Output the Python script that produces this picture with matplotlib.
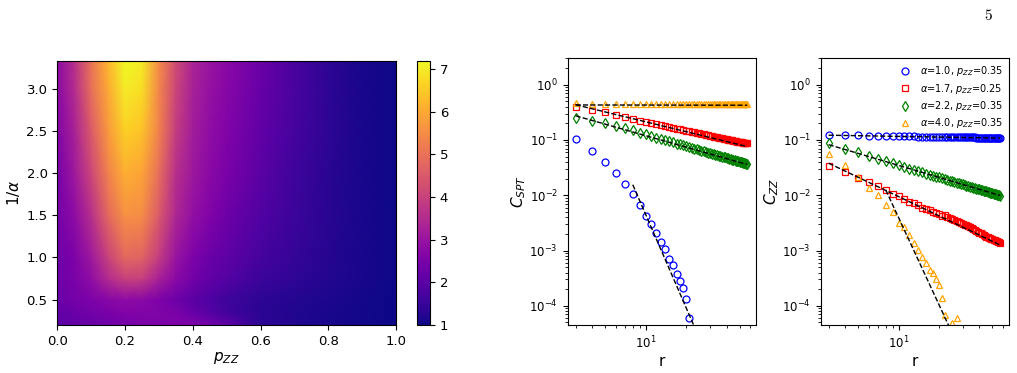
import numpy as np
import matplotlib
matplotlib.use("Agg")
import matplotlib.pyplot as plt

# ---------------- heatmap data ----------------
P_ZZ = [0.0, 0.05, 0.1, 0.15, 0.2, 0.25, 0.3, 0.35, 0.4, 0.45, 0.5, 0.6, 0.7, 0.8, 0.9, 1.0]
INV_ALPHA = [0.2, 0.35, 0.5, 0.75, 1.0, 1.5, 2.0, 2.5, 3.0, 3.33]
row_020 = [2.0, 2.1, 2.2, 2.3, 2.4, 2.5, 2.55, 2.6, 2.55, 2.4, 2.1, 1.35, 1.2, 1.1, 1.05, 1.0]
row_035 = [2.1, 2.25, 2.4, 2.5, 2.6, 2.6, 2.6, 2.5, 2.2, 1.9, 1.65, 1.3, 1.2, 1.12, 1.05, 1.0]
row_050 = [2.25, 2.4, 2.55, 2.7, 2.8, 2.75, 2.55, 2.3, 2.0, 1.8, 1.6, 1.35, 1.22, 1.15, 1.07, 1.0]
row_075 = [2.3, 2.5, 2.85, 3.5, 4.0, 3.95, 3.3, 2.75, 2.4, 2.1, 1.9, 1.55, 1.38, 1.22, 1.1, 1.0]
row_100 = [2.3, 2.55, 3.1, 4.0, 4.8, 4.7, 3.9, 3.0, 2.55, 2.25, 2.05, 1.7, 1.45, 1.25, 1.1, 1.0]
row_150 = [2.4, 2.8, 3.6, 4.8, 5.6, 5.5, 4.5, 3.4, 2.9, 2.6, 2.3, 1.85, 1.55, 1.3, 1.12, 1.0]
row_200 = [2.45, 3.1, 4.1, 5.3, 6.1, 5.9, 4.9, 3.6, 3.1, 2.75, 2.5, 2.0, 1.6, 1.3, 1.12, 1.0]
row_250 = [2.6, 3.3, 4.5, 5.7, 6.6, 6.4, 5.3, 3.9, 3.2, 2.85, 2.6, 2.1, 1.7, 1.35, 1.12, 1.0]
row_300 = [2.75, 3.5, 4.9, 6.0, 7.0, 6.8, 5.4, 4.1, 3.3, 2.95, 2.7, 2.2, 1.75, 1.35, 1.12, 1.0]
row_333 = [2.8, 3.6, 5.0, 6.2, 7.2, 7.0, 5.5, 4.2, 3.35, 3.0, 2.75, 2.25, 1.75, 1.35, 1.1, 1.0]
CBAR_TICKS = [1, 2, 3, 4, 5, 6, 7]

# ---------------- correlation data ----------------
R = list(range(3, 58))

legend_labels = [r'$\alpha$=1.0, $p_{ZZ}$=0.35', r'$\alpha$=1.7, $p_{ZZ}$=0.25',
                 r'$\alpha$=2.2, $p_{ZZ}$=0.35', r'$\alpha$=4.0, $p_{ZZ}$=0.35']

# C_SPT
spt_blue_r = list(range(3, 22))
spt_blue = [0.104, 0.064, 0.040, 0.025, 0.0161, 0.0106, 0.0066, 0.0043, 0.0030, 0.00206,
            0.00143, 0.00107, 0.000695, 0.000556, 0.000372, 0.000285, 0.000213, 0.000133, 0.0000608]
spt_red = [0.40, 0.352, 0.315, 0.283, 0.260, 0.240, 0.224, 0.211,
           0.201, 0.193, 0.184, 0.177, 0.171, 0.165, 0.160, 0.155, 0.151, 0.147,
           0.143, 0.140, 0.137, 0.134, 0.131, 0.128, 0.126, 0.123, 0.121, 0.119,
           0.117, 0.115, 0.113, 0.112, 0.110, 0.108, 0.107, 0.105, 0.104, 0.103,
           0.101, 0.100, 0.099, 0.098, 0.096,
           0.0955, 0.0945, 0.0936, 0.0928, 0.092, 0.0912, 0.0905, 0.0898, 0.0892, 0.0886, 0.088, 0.0875]
spt_green = [0.252, 0.224, 0.199, 0.180, 0.163, 0.149, 0.136, 0.126,
             0.117, 0.110, 0.104, 0.0988, 0.0941, 0.090, 0.0862, 0.0829, 0.0798, 0.077,
             0.0744, 0.072, 0.0698, 0.0677, 0.0659, 0.064, 0.0624, 0.0608, 0.0593, 0.0579,
             0.0566, 0.0554, 0.0542, 0.0531, 0.052, 0.051, 0.05, 0.0491, 0.0482, 0.0474,
             0.0465, 0.0458, 0.045, 0.0443, 0.0436, 0.043, 0.0423, 0.0417, 0.0411, 0.0405,
             0.04, 0.0394, 0.0389, 0.0384, 0.0379, 0.0374, 0.037]
spt_orange = [0.46, 0.45, 0.448, 0.447, 0.446, 0.446, 0.445, 0.445, 0.445, 0.444,
              0.444, 0.444, 0.444, 0.443, 0.443, 0.443, 0.443, 0.443, 0.442, 0.442,
              0.442, 0.442, 0.442, 0.442, 0.441, 0.441, 0.441, 0.441, 0.441, 0.441,
              0.441, 0.440, 0.440, 0.440, 0.440, 0.440, 0.440, 0.440, 0.440, 0.440,
              0.439, 0.439, 0.439, 0.439, 0.439, 0.439, 0.439, 0.439, 0.439, 0.438,
              0.438, 0.438, 0.438, 0.438, 0.438]
# fit lines (end points)
spt_fit_blue = ([8, 23], [0.0155, 4.2e-5])
spt_fit_red = ([3, 57], [0.434, 0.076])
spt_fit_green = ([3, 57], [0.274, 0.036])
spt_fit_orange = ([3, 57], [0.43, 0.425])

# C_ZZ
zz_blue = [0.125, 0.122, 0.121, 0.120, 0.119, 0.118, 0.1175, 0.117,
           0.1166, 0.1162, 0.1158, 0.1155, 0.1152, 0.115, 0.1147, 0.1144, 0.1142, 0.114,
           0.1137, 0.1135, 0.1133, 0.1131, 0.1129, 0.1127, 0.1125, 0.1123, 0.1121, 0.112,
           0.1118, 0.1116, 0.1115, 0.1113, 0.1112, 0.111, 0.1109, 0.1107, 0.1106, 0.1105,
           0.1103, 0.1102, 0.1101, 0.11, 0.1098, 0.1097, 0.1096, 0.1095, 0.1094, 0.1093,
           0.1092, 0.1091, 0.109, 0.1089, 0.1088, 0.1087, 0.1086]
zz_red = [0.0340, 0.0262, 0.0208, 0.0174, 0.0149, 0.0122, 0.0106, 0.0095,
          0.00854, 0.0076, 0.0071, 0.0066, 0.0060, 0.0056, 0.0053, 0.0050, 0.0047, 0.00455,
          0.0043, 0.00432, 0.0041, 0.0039, 0.00375, 0.0036, 0.00345, 0.0033, 0.0032, 0.00305,
          0.00295, 0.00285, 0.00275, 0.00265, 0.00255, 0.00245, 0.00232, 0.00224, 0.00216, 0.0021,
          0.00204, 0.00198, 0.00188, 0.00182, 0.00178, 0.00174, 0.0017, 0.00166, 0.00163, 0.00159,
          0.00155, 0.00152, 0.00149, 0.00146, 0.00143, 0.0014, 0.00137]
zz_green = [0.0878, 0.070, 0.061, 0.052, 0.046, 0.041, 0.0376, 0.0346,
            0.0323, 0.0304, 0.0287, 0.0272, 0.0259, 0.0247, 0.0236, 0.0227, 0.0218, 0.0210,
            0.0203, 0.0196, 0.0190, 0.0184, 0.0179, 0.0174, 0.0169, 0.0165, 0.0161, 0.0157,
            0.0153, 0.0150, 0.0147, 0.0143, 0.0140, 0.0138, 0.0135, 0.0132, 0.0130, 0.01275,
            0.01253, 0.01231, 0.0121, 0.0119, 0.01172, 0.01153, 0.01135, 0.01118, 0.01102, 0.01086,
            0.01071, 0.01056, 0.01041, 0.01028, 0.01014, 0.01001, 0.00989]
zz_orange_r = list(range(3, 23)) + [25, 27]
zz_orange = [0.0555, 0.0346, 0.0218, 0.0138, 0.0099, 0.0067, 0.0049, 0.0032, 0.0027, 0.0019,
             0.00139, 0.00103, 0.00078, 0.00059, 0.000445, 0.00039, 0.0003, 0.000238, 0.000137,
             0.000068, 0.000048, 0.000059]
zz_fit_blue = ([3, 57], [0.122, 0.108])
zz_fit_red = ([3, 57], [0.038, 0.00126])
zz_fit_green = ([3, 57], [0.0823, 0.0099])
zz_fit_orange = ([8, 24], [0.0125, 4.0e-5])

for s in (spt_red, spt_green, spt_orange, zz_blue, zz_red, zz_green):
    assert len(s) == len(R), len(s)

# ---------------- figure ----------------
fig = plt.figure(figsize=(10.17, 3.73), dpi=100)
ax0 = fig.add_axes([0.0563, 0.1287, 0.3331, 0.7086])
cax = fig.add_axes([0.4103, 0.1287, 0.0125, 0.7086])
ax1 = fig.add_axes([0.5582, 0.1287, 0.1854, 0.715])
ax2 = fig.add_axes([0.807, 0.1287, 0.1852, 0.715])

Z = np.array([row_020, row_035, row_050, row_075, row_100, row_150,
              row_200, row_250, row_300, row_333])
m = ax0.pcolormesh(P_ZZ, INV_ALPHA, Z, shading='gouraud', cmap='plasma', vmin=1, vmax=7.2)
ax0.set_xlim(0, 1)
ax0.set_ylim(0.2, 3.33)
ax0.set_xticks([0.0, 0.2, 0.4, 0.6, 0.8, 1.0])
ax0.set_yticks([0.5, 1.0, 1.5, 2.0, 2.5, 3.0])
ax0.tick_params(labelsize=9.5)
ax0.set_xlabel(r'$p_{ZZ}$', fontsize=11, labelpad=2)
ax0.set_ylabel(r'$1/\alpha$', fontsize=11, labelpad=3)
cb = fig.colorbar(m, cax=cax, ticks=CBAR_TICKS)
cb.ax.tick_params(labelsize=9.5)

ms = 5
def draw(ax, series):
    for (rr, vals, mk, col, lab) in series:
        ax.plot(rr, vals, mk, mfc='none', mec=col, ms=ms, mew=0.9, ls='none', label=lab)

draw(ax1, [(spt_blue_r, spt_blue, 'o', 'blue', legend_labels[0]),
           (R, spt_red, 's', 'red', legend_labels[1]),
           (R, spt_green, 'd', 'green', legend_labels[2]),
           (R, spt_orange, '^', 'orange', legend_labels[3])])
for fr, fy in (spt_fit_blue, spt_fit_red, spt_fit_green, spt_fit_orange):
    ax1.plot(fr, fy, 'k--', lw=1)

draw(ax2, [(R, zz_blue, 'o', 'blue', legend_labels[0]),
           (R, zz_red, 's', 'red', legend_labels[1]),
           (R, zz_green, 'd', 'green', legend_labels[2]),
           (zz_orange_r, zz_orange, '^', 'orange', legend_labels[3])])
for fr, fy in (zz_fit_blue, zz_fit_red, zz_fit_green, zz_fit_orange):
    ax2.plot(fr, fy, 'k--', lw=1)

for ax, lab in ((ax1, r'$C_{SPT}$'), (ax2, r'$C_{ZZ}$')):
    ax.set_xscale('log')
    ax.set_yscale('log')
    ax.set_ylim(4.5e-5, 3.0)
    ax.set_xlim(2.62, 66.5)
    ax.tick_params(labelsize=8.5)
    ax.set_xlabel('r', fontsize=11, labelpad=2)
    ax.set_ylabel(lab, fontsize=11, labelpad=1)

ax2.legend(loc='upper right', frameon=False, fontsize=7, handletextpad=0.5,
           labelspacing=0.35, borderaxespad=0.2)

fig.text(0.9715, 0.958, r'$5$', fontsize=11, math_fontfamily='cm', ha='center', va='center')

fig.savefig('out.png', dpi=100)
